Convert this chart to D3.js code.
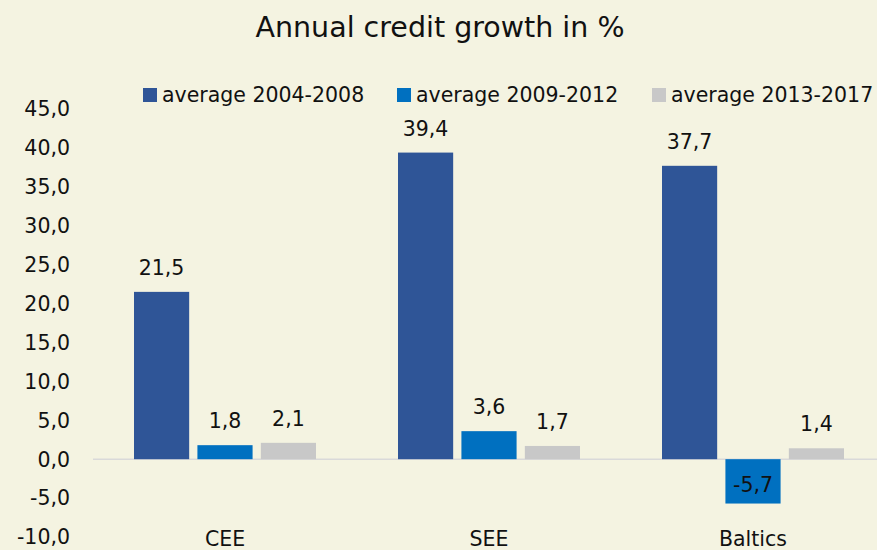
<!DOCTYPE html>
<html>
<head>
<meta charset="utf-8">
<script src="https://cdn.jsdelivr.net/npm/d3@7"></script>
<style>
  body { margin: 0; background: #f4f3e1; }
  svg text { font-family: "DejaVu Sans", Verdana, sans-serif; fill: #111; }
</style>
</head>
<body>
<div class="chart"></div>
<script>
var categories = ["CEE", "SEE", "Baltics"];
var seriesNames = ["average 2004-2008", "average 2009-2012", "average 2013-2017"];
var avg0408 = [21.5, 39.4, 37.7];
var avg0912 = [1.8, 3.6, -5.7];
var avg1317 = [2.1, 1.7, 1.4];
var yTicks = [-10, -5, 0, 5, 10, 15, 20, 25, 30, 35, 40, 45];
var colors = ["#2f5597", "#0070c0", "#c8c8c8"];

var seriesValues = [avg0408, avg0912, avg1317];
var data = [];
categories.forEach(function(c, i){
	seriesNames.forEach(function(s, j){
		data.push({cat: c, series: s, value: seriesValues[j][i], idx: j});
	})
})

var fmt = function(v){ return v.toFixed(1).replace(".", ","); };

var width = 877, height = 550;
var svg = d3.select(".chart").append("svg")
	.attr("width", width)
	.attr("height", height)
	.style("display", "block");

svg.append("rect").attr("width", width).attr("height", height).attr("fill", "#f4f3e1");

var margin = {left: 93, right: -8, top: 109, bottom: 13};

var x = d3.scaleBand().domain(categories).range([margin.left, width - margin.right]);
var xIn = d3.scaleBand().domain(seriesNames).range([0, 182]).paddingInner(0.13);
var y = d3.scaleLinear().domain([-10, 45]).range([height - margin.bottom, margin.top]);

// title
svg.append("text")
	.attr("x", 440).attr("y", 37)
	.attr("text-anchor", "middle")
	.style("font-size", "28.5px")
	.text("Annual credit growth in %");

// y axis labels
svg.selectAll(".ytick").data(yTicks).enter().append("text")
	.attr("class", "ytick")
	.attr("x", 70)
	.attr("y", function(d){ return y(d); })
	.attr("dy", "0.36em")
	.attr("text-anchor", "end")
	.style("font-size", "20.5px")
	.text(fmt);

// zero line
svg.append("line")
	.attr("x1", margin.left).attr("x2", width)
	.attr("y1", y(0)).attr("y2", y(0))
	.attr("stroke", "#d9d9d9").attr("stroke-width", 1.5);

// bars
var g = svg.append("g");
g.selectAll("rect.bar").data(data).enter().append("rect")
	.attr("class", "bar")
	.attr("x", function(d){ return x(d.cat) + x.bandwidth() / 2 - 91 + xIn(d.series); })
	.attr("width", xIn.bandwidth())
	.attr("y", function(d){ return y(Math.max(0, d.value)); })
	.attr("height", function(d){ return Math.abs(y(d.value) - y(0)); })
	.attr("fill", function(d){ return colors[d.idx]; });

// value labels
g.selectAll("text.val").data(data).enter().append("text")
	.attr("class", "val")
	.attr("x", function(d){ return x(d.cat) + x.bandwidth() / 2 - 91 + xIn(d.series) + xIn.bandwidth() / 2; })
	.attr("y", function(d){ return d.value >= 0 ? y(d.value) - 17 : y(d.value) - 12; })
	.attr("text-anchor", "middle")
	.style("font-size", "20.5px")
	.text(function(d){ return fmt(d.value); });

// category labels
svg.selectAll(".xlab").data(categories).enter().append("text")
	.attr("class", "xlab")
	.attr("x", function(d){ return x(d) + x.bandwidth() / 2; })
	.attr("y", 546)
	.attr("text-anchor", "middle")
	.style("font-size", "20.5px")
	.text(function(d){ return d; });

// legend
var legX = [143, 397, 652];
var leg = svg.selectAll(".leg").data(seriesNames).enter().append("g")
	.attr("class", "leg")
	.attr("transform", function(d, i){ return "translate(" + legX[i] + ",88)"; });
leg.append("rect").attr("width", 14).attr("height", 14)
	.attr("fill", function(d, i){ return colors[i]; });
leg.append("text").attr("x", 19).attr("y", 7).attr("dy", "0.36em")
	.style("font-size", "20.5px")
	.text(function(d){ return d; });
</script>
</body>
</html>
